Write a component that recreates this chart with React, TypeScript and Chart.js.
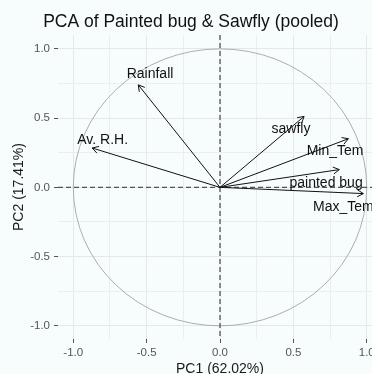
import React, { useEffect, useRef } from 'react';
import { Chart, registerables } from 'chart.js';

Chart.register(...registerables);

const titleText = 'PCA of Painted bug & Sawfly (pooled)';
const xTitle = 'PC1 (62.02%)';
const yTitle = 'PC2 (17.41%)';

const variables = ['Rainfall', 'Av. R.H.', 'sawfly', 'Min_Tem', 'painted bug', 'Max_Tem'];
const pc1 = [-0.557, -0.871, 0.573, 0.875, 0.813, 0.977];
const pc2 = [0.74, 0.284, 0.512, 0.351, 0.128, -0.045];
const labelX = [-0.477, -0.8, 0.484, 0.784, 0.723, 0.841];
const labelY = [0.818, 0.344, 0.421, 0.26, 0.032, -0.141];

const tickValues = [-1, -0.75, -0.5, -0.25, 0, 0.25, 0.5, 0.75, 1];
const circleRadius = 1;
const xRange = [-1.104, 1.104];
const yRange = [-1.095, 1.1];

const FONT = '"Liberation Sans", Arial, sans-serif';

const isMajor = (v: number) => Math.abs(v * 2 - Math.round(v * 2)) < 1e-6;

const biplotPlugin = {
  id: 'biplot',
  beforeDatasetsDraw(chart: any) {
    const { ctx, chartArea, scales } = chart;
    const x = scales.x;
    const y = scales.y;
    const x0 = x.getPixelForValue(0);
    const y0 = y.getPixelForValue(0);
    const rx = x.getPixelForValue(circleRadius) - x0;
    const ry = y0 - y.getPixelForValue(circleRadius);
    ctx.save();
    ctx.strokeStyle = '#ADADAD';
    ctx.lineWidth = 1;
    ctx.beginPath();
    ctx.ellipse(x0, y0, rx, ry, 0, 0, Math.PI * 2);
    ctx.stroke();
    ctx.setLineDash([5, 3]);
    ctx.strokeStyle = '#555';
    ctx.lineWidth = 1.3;
    ctx.beginPath();
    ctx.moveTo(chartArea.left, y0);
    ctx.lineTo(chartArea.right, y0);
    ctx.moveTo(x0, chartArea.top);
    ctx.lineTo(x0, chartArea.bottom);
    ctx.stroke();
    ctx.restore();
  },
  afterDatasetsDraw(chart: any) {
    const { ctx, scales } = chart;
    const x = scales.x;
    const y = scales.y;
    ctx.save();
    ctx.strokeStyle = '#111';
    ctx.lineWidth = 1;
    const head = 7;
    const ang = Math.PI / 6;
    chart.data.datasets.forEach((_: any, i: number) => {
      const meta = chart.getDatasetMeta(i);
      const p0 = meta.data[0];
      const p1 = meta.data[1];
      if (!p0 || !p1) return;
      const a = Math.atan2(p1.y - p0.y, p1.x - p0.x);
      ctx.beginPath();
      ctx.moveTo(p1.x - head * Math.cos(a - ang), p1.y - head * Math.sin(a - ang));
      ctx.lineTo(p1.x, p1.y);
      ctx.lineTo(p1.x - head * Math.cos(a + ang), p1.y - head * Math.sin(a + ang));
      ctx.stroke();
    });
    ctx.fillStyle = '#111';
    ctx.font = `14px ${FONT}`;
    ctx.textAlign = 'center';
    ctx.textBaseline = 'middle';
    variables.forEach((name, i) => {
      ctx.fillText(name, x.getPixelForValue(labelX[i]), y.getPixelForValue(labelY[i]));
    });
    ctx.restore();
  },
};

const gridCfg = {
  color: (c: any) => (c.tick && isMajor(c.tick.value) ? '#E4E8E8' : '#EAEEEE'),
  lineWidth: 1,
  tickColor: (c: any) => (c.tick && isMajor(c.tick.value) ? '#555' : 'rgba(0,0,0,0)'),
  tickLength: 4,
  drawTicks: true,
};

const tickCb = (v: any) => (isMajor(Number(v)) ? Number(v).toFixed(1) : '');

export default function App() {
  const ref = useRef<HTMLCanvasElement>(null);
  useEffect(() => {
    if (!ref.current) return;
    const chart = new Chart(ref.current, {
      type: 'line',
      data: {
        datasets: variables.map((name, i) => ({
          label: name,
          data: [
            { x: 0, y: 0 },
            { x: pc1[i], y: pc2[i] },
          ],
          borderColor: '#111',
          borderWidth: 1,
          pointRadius: 0,
          fill: false,
        })),
      },
      options: {
        responsive: false,
        animation: false,
        devicePixelRatio: 1,
        layout: { padding: { left: 0, right: 33, top: 0, bottom: 0 } },
        plugins: {
          legend: { display: false },
          tooltip: { enabled: false },
          title: {
            display: true,
            text: titleText,
            color: '#111',
            font: { family: FONT, size: 17.5, weight: 'normal' },
            padding: { top: 12, bottom: 2 },
          },
        },
        scales: {
          x: {
            type: 'linear',
            min: xRange[0],
            max: xRange[1],
            afterBuildTicks: (s: any) => {
              s.ticks = tickValues.map((v) => ({ value: v }));
            },
            afterFit: (s: any) => {
              s.height = 35;
            },
            border: { display: false },
            grid: gridCfg,
            ticks: {
              autoSkip: false,
              maxRotation: 0,
              minRotation: 0,
              padding: 3,
              color: '#555',
              font: { family: FONT, size: 11.5 },
              callback: tickCb,
            },
            title: {
              display: true,
              text: xTitle,
              color: '#1a1a1a',
              font: { family: FONT, size: 14, lineHeight: 1 },
              padding: { top: 0, bottom: -2 },
            },
          },
          y: {
            type: 'linear',
            min: yRange[0],
            max: yRange[1],
            afterBuildTicks: (s: any) => {
              s.ticks = tickValues.map((v) => ({ value: v }));
            },
            afterFit: (s: any) => {
              s.width = 58;
            },
            border: { display: false },
            grid: gridCfg,
            ticks: {
              autoSkip: false,
              padding: 4,
              color: '#555',
              font: { family: FONT, size: 11.5 },
              callback: tickCb,
            },
            title: {
              display: true,
              text: yTitle,
              color: '#1a1a1a',
              font: { family: FONT, size: 14, lineHeight: 1 },
              padding: { top: 12, bottom: 0 },
            },
          },
        },
      },
      plugins: [biplotPlugin],
    } as any);
    return () => chart.destroy();
  }, []);
  return (
    <div
      style={{
        position: 'fixed',
        left: 0,
        top: 0,
        width: 372,
        height: 374,
        overflow: 'hidden',
        background: '#F7FCFC',
      }}
    >
      <canvas ref={ref} width={415} height={374} style={{ display: 'block', width: 415, height: 374 }} />
    </div>
  );
}
